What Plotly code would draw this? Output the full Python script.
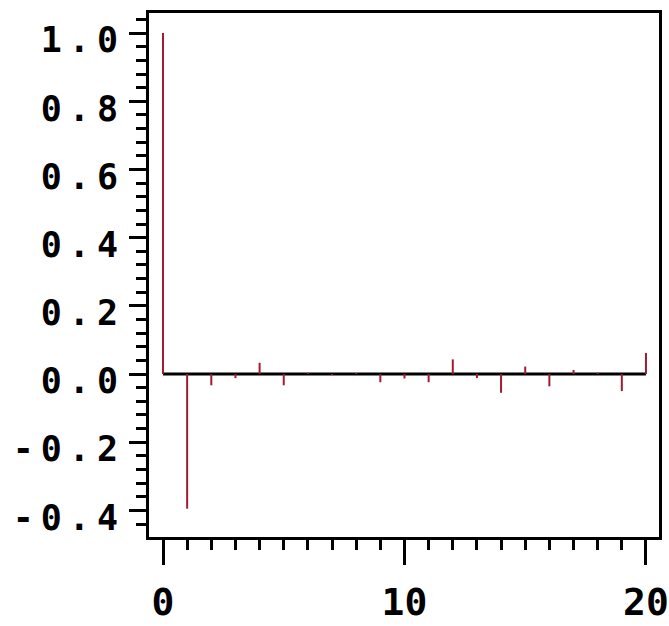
import plotly.graph_objects as go

lags = list(range(21))
acf = [1.0, -0.395, -0.033, -0.012, 0.033, -0.033, 0.004, -0.003, 0.003,
       -0.024, -0.013, -0.024, 0.043, -0.012, -0.055, 0.022, -0.036, 0.012,
       0.004, -0.050, 0.062]

y_tickvals = [1.0, 0.8, 0.6, 0.4, 0.2, 0.0, -0.2, -0.4]
y_ticklabels = ["1.0", "0.8", "0.6", "0.4", "0.2", "0.0", "-0.2", "-0.4"]
x_tickvals = [0, 10, 20]
x_ticklabels = ["0", "10", "20"]

stem_x, stem_y = [], []
for lag, v in zip(lags, acf):
    stem_x += [lag, lag, None]
    stem_y += [0, v, None]

fig = go.Figure()
fig.add_trace(go.Scatter(x=[lags[0], lags[-1]], y=[0, 0], mode="lines",
                         line=dict(color="black", width=3), hoverinfo="skip"))
fig.add_trace(go.Scatter(x=stem_x, y=stem_y, mode="lines",
                         line=dict(color="#9e1c32", width=2), hoverinfo="skip"))

W, H = 669, 626
fig.update_layout(
    width=W, height=H,
    margin=dict(l=149, r=10, t=13, b=89, autoexpand=False),
    paper_bgcolor="white", plot_bgcolor="white",
    showlegend=False,
)
fig.update_xaxes(
    range=[-0.58, 20.54], showgrid=False, zeroline=False,
    showline=True, mirror=True, linecolor="black", linewidth=3,
    tickmode="array", tickvals=x_tickvals, ticktext=x_ticklabels,
    ticks="outside", ticklen=25, tickwidth=3, tickcolor="black",
    minor=dict(dtick=1, tick0=0, ticks="outside", ticklen=10, tickwidth=3, tickcolor="black", showgrid=False),
    tickfont=dict(family="DejaVu Sans Mono", size=38, color="black", weight="bold"),
    ticklabelstandoff=4, ticklabeloverflow="allow",
)
fig.update_yaxes(
    range=[-0.478, 1.059], showgrid=False, zeroline=False,
    showline=True, mirror=True, linecolor="black", linewidth=3,
    tickmode="array", tickvals=y_tickvals,
    ticktext=['<span style="letter-spacing:7px">%s</span>' % t for t in y_ticklabels],
    ticks="outside", ticklen=17, tickwidth=3, tickcolor="black",
    minor=dict(dtick=0.04, tick0=0, ticks="outside", ticklen=10, tickwidth=3, tickcolor="black", showgrid=False),
    tickfont=dict(family="DejaVu Sans Mono", size=35, color="black", weight="bold"),
    ticklabelstandoff=-3, ticklabelshift=7, ticklabeloverflow="allow",
)

fig.write_html("out.html")
